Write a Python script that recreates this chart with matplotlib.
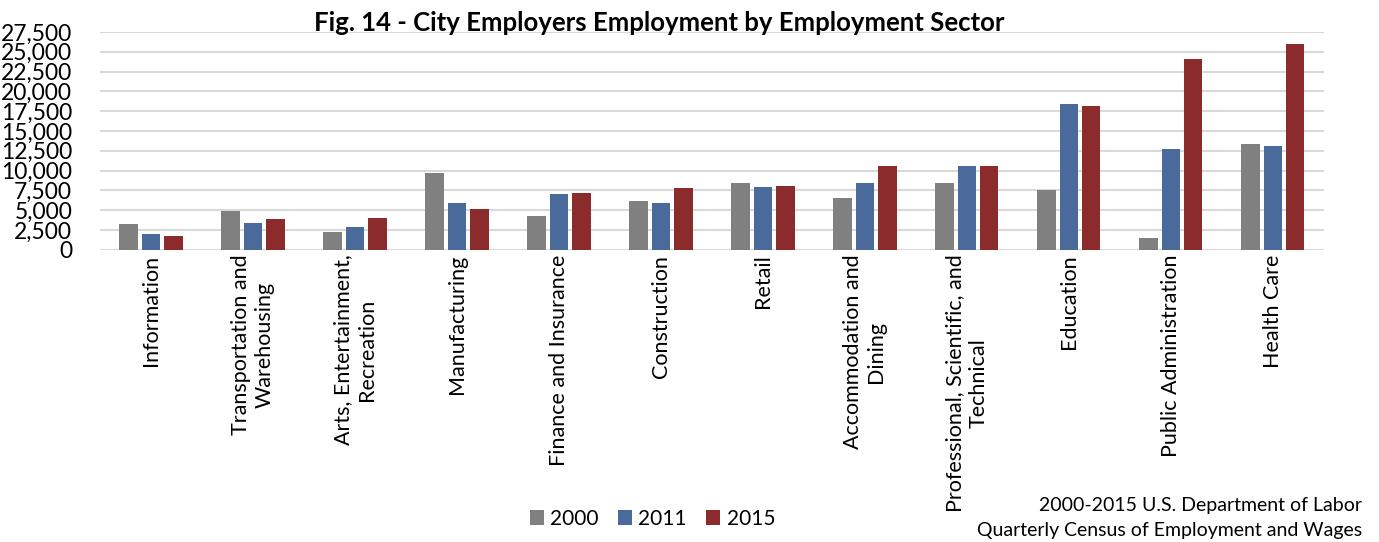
import numpy as np
import matplotlib.pyplot as plt
from matplotlib.ticker import FuncFormatter

plt.rcParams['font.family'] = ['Lato', 'DejaVu Sans']

sectors = ['Information', 'Transportation and\nWarehousing', 'Arts, Entertainment,\nRecreation',
           'Manufacturing', 'Finance and Insurance', 'Construction', 'Retail',
           'Accommodation and\nDining', 'Professional, Scientific, and\nTechnical',
           'Education', 'Public Administration', 'Health Care']
emp_2000 = [3300, 4900, 2300, 9700, 4300, 6150, 8400, 6550, 8500, 7550, 1500, 13350]
emp_2011 = [2050, 3350, 2900, 5900, 7050, 5900, 7900, 8450, 10600, 18400, 12700, 13100]
emp_2015 = [1750, 3900, 4050, 5200, 7150, 7750, 8100, 10550, 10600, 18200, 24100, 26000]

colors = ['#808080', '#4A6A9B', '#8B2B2B']
years = ['2000', '2011', '2015']

fig = plt.figure(figsize=(13.79, 5.42), dpi=100)
ax = fig.add_axes([0.0725, 0.539, 0.8875, 0.402])

x = np.arange(len(sectors))
for i, (vals, c, lab) in enumerate(zip([emp_2000, emp_2011, emp_2015], colors, years)):
    ax.bar(x + (i - 1) * 0.22, vals, width=0.18, color=c, label=lab, zorder=3)

ax.set_xlim(-0.5, len(sectors) - 0.5)
ax.set_ylim(0, 27500)
ax.set_yticks(np.arange(0, 27501, 2500))
ax.yaxis.set_major_formatter(FuncFormatter(lambda v, p: '{:,.0f}'.format(v)))
ax.grid(axis='y', color='#d9d9d9', linewidth=1.5, zorder=0)
for s in ax.spines.values():
    s.set_visible(False)
ax.tick_params(axis='both', length=0, labelsize=15)
ax.tick_params(axis='y', labelsize=16.5, pad=20)
ax.set_xticks(x)
ax.set_xticklabels(sectors, rotation=90, ha='center', va='top', fontsize=15.5)
ax.axhline(0, color='#d9d9d9', linewidth=1.5, zorder=1)

fig.text(0.478, 0.958, 'Fig. 14 - City Employers Employment by Employment Sector',
         ha='center', va='center', fontsize=18.5, fontweight='bold')

fig.legend(loc='center', bbox_to_anchor=(0.473, 0.043), ncol=3, frameon=False,
           fontsize=15, handlelength=0.7, handleheight=0.7, handletextpad=0.3,
           columnspacing=0.9)

fig.text(0.988, 0.068, '2000-2015 U.S. Department of Labor', ha='right', va='center', fontsize=14)
fig.text(0.988, 0.022, 'Quarterly Census of Employment and Wages', ha='right', va='center', fontsize=14)

fig.savefig('out.png', dpi=100)
